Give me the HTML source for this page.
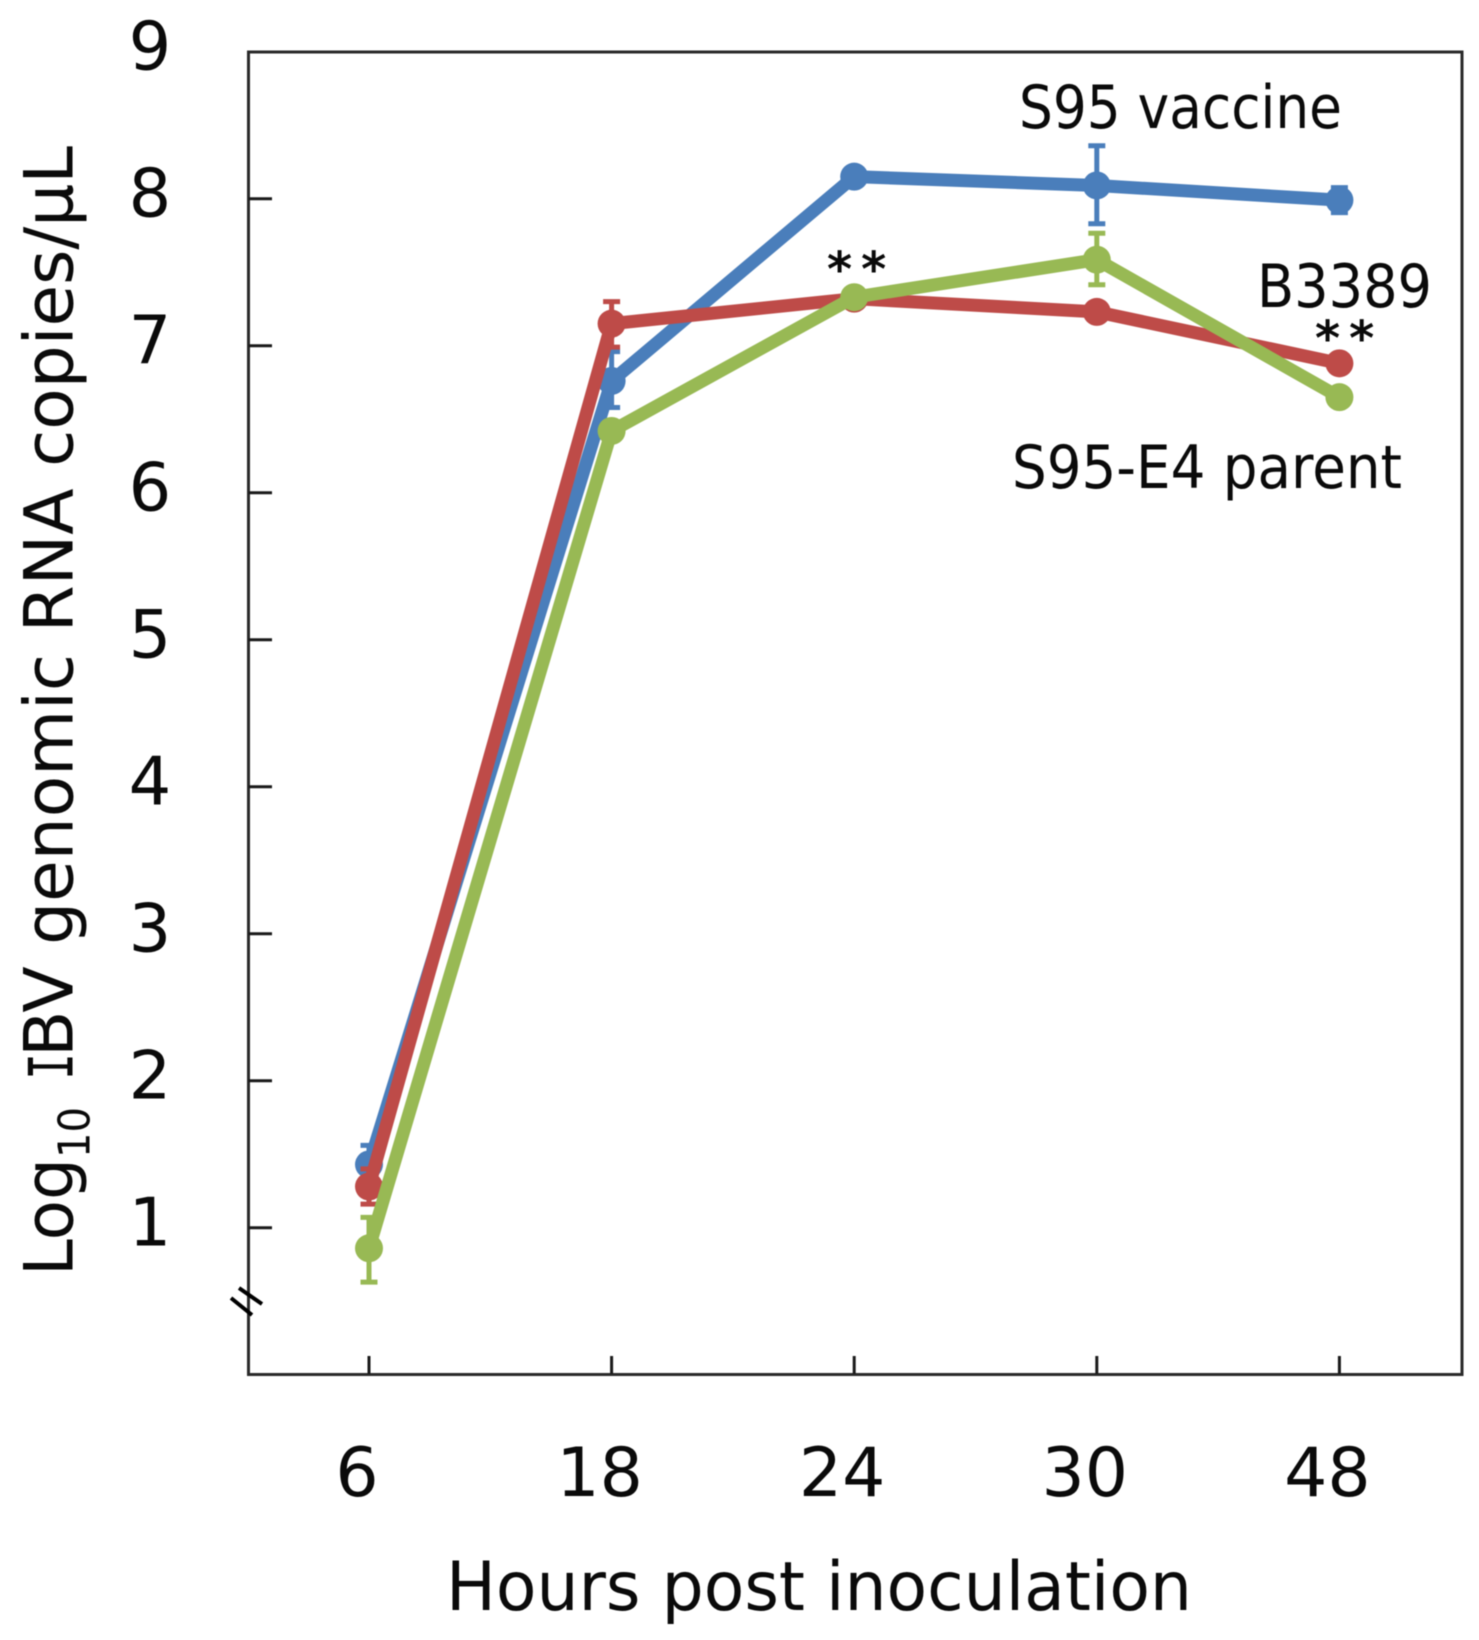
<!DOCTYPE html>
<html lang="en">
<head>
<meta charset="utf-8">
<title>IBV genomic RNA replication chart</title>
<style>
  html, body { margin: 0; padding: 0; background: #fff; }
  svg { display: block; filter: blur(0.6px); }
  text { font-family: "DejaVu Sans", "Liberation Sans", sans-serif; fill: #0a0a0a; }
</style>
</head>
<body>
<svg id="chart" xmlns="http://www.w3.org/2000/svg" width="1479" height="1640" viewBox="0 0 1479 1640">
  <rect x="0" y="0" width="1479" height="1640" fill="#ffffff"/>
  <rect x="248.5" y="52" width="1213.5" height="1322.5" fill="none" stroke="#2a2a2a" stroke-width="3"/>
  <g id="ticks"></g>
  <g id="labels"></g>
  <line x1="239" y1="1288" x2="262" y2="1304" stroke="#000" stroke-width="4"/>
  <line x1="231" y1="1298" x2="252" y2="1315" stroke="#000" stroke-width="4"/>
  <g id="series"></g>

  <text transform="translate(72.7 1276) rotate(-90)" font-size="68" textLength="118" lengthAdjust="spacingAndGlyphs">Log</text>
  <text transform="translate(89.3 1158) rotate(-90)" font-size="44" textLength="51" lengthAdjust="spacingAndGlyphs">10</text>
  <text transform="translate(72.7 1080) rotate(-90)" font-size="68" textLength="27" lengthAdjust="spacingAndGlyphs" style="font-family:'Liberation Mono',monospace">I</text>
  <text transform="translate(72.7 1057) rotate(-90)" font-size="68" textLength="911" lengthAdjust="spacingAndGlyphs">BV genomic RNA copies/µL</text>
  <text x="446" y="1610" font-size="68" textLength="746" lengthAdjust="spacingAndGlyphs">Hours post inoculation</text>

  <text x="1019" y="128" font-size="60" textLength="323" lengthAdjust="spacingAndGlyphs">S95 vaccine</text>
  <text x="1257" y="307" font-size="60" textLength="175" lengthAdjust="spacingAndGlyphs">B3389</text>
  <text x="1012" y="488" font-size="60" textLength="390" lengthAdjust="spacingAndGlyphs">S95-E4 parent</text>
  <text x="827" y="286" font-size="48" font-weight="bold" letter-spacing="9">**</text>
  <text x="1315" y="355" font-size="48" font-weight="bold" letter-spacing="9">**</text>
</svg>
<script>
const categories = ["6", "18", "24", "30", "48"];
const yTickLabels = [1, 2, 3, 4, 5, 6, 7, 8, 9];

const blueValues = [1.43, 6.76, 8.15, 8.09, 7.99];
const blueErrUp = [0.13, 0.20, 0.02, 0.27, 0.085];
const blueErrDown = [0.13, 0.18, 0.02, 0.26, 0.085];

const redValues = [1.28, 7.15, 7.32, 7.23, 6.88];
const redErrUp = [0.12, 0.15, 0.03, 0.03, 0.03];
const redErrDown = [0.12, 0.16, 0.03, 0.03, 0.03];

const greenValues = [0.86, 6.42, 7.33, 7.585, 6.65];
const greenErrUp = [0.21, 0.03, 0.03, 0.18, 0.03];
const greenErrDown = [0.23, 0.03, 0.03, 0.17, 0.03];

const SVGNS = "http://www.w3.org/2000/svg";
function xScale(i) { return 369 + i * 242.6; }
function yScale(v) { return 198.7 + (8 - v) * 147; }
function make(tag, parent) {
  const el = document.createElementNS(SVGNS, tag);
  parent.appendChild(el);
  return el;
}
function setLine(el, x1, y1, x2, y2, color, w) {
  el.setAttribute("x1", x1);
  el.setAttribute("y1", y1);
  el.setAttribute("x2", x2);
  el.setAttribute("y2", y2);
  el.setAttribute("stroke", color);
  el.setAttribute("stroke-width", w);
}

const ticks = document.getElementById("ticks");
const labels = document.getElementById("labels");

yTickLabels.forEach(function (v) {
  if (v < 9) {
    const t = make("line", ticks);
    
    
    setLine(t, 248.5, yScale(v), 272, yScale(v), "#1a1a1a", 3);
  }
  const l = make("text", labels);
  
  
  l.setAttribute("x", 150);
  l.setAttribute("y", yScale(v) + 18);
  l.setAttribute("font-size", 67);
  l.setAttribute("text-anchor", "middle");
  l.textContent = v;
});

categories.forEach(function (c, i) {
  const t = make("line", ticks);
  
  
  setLine(t, xScale(i), 1356, xScale(i), 1374, "#1a1a1a", 3);
  const l = make("text", labels);
  
  
  l.setAttribute("x", xScale(i) - 12);
  l.setAttribute("y", 1496);
  l.setAttribute("font-size", 68);
  l.setAttribute("text-anchor", "middle");
  l.textContent = c;
});

function drawSeries(name, color, values, errUp, errDown) {
  const group = make("g", document.getElementById("series"));
  
  

  values.forEach(function (v, i) {
    const x = xScale(i);
    const top = yScale(v + errUp[i]);
    const bottom = yScale(v - errDown[i]);
    const bar = make("line", group);
    
    
    setLine(bar, x, top, x, bottom, color, 5);
    const capTop = make("line", group);
    
    
    setLine(capTop, x - 8.5, top, x + 8.5, top, color, 5);
    const capBottom = make("line", group);
    
    
    setLine(capBottom, x - 8.5, bottom, x + 8.5, bottom, color, 5);
  });

  const line = make("polyline", group);
  
  
  line.setAttribute("points", values.map(function (v, i) { return xScale(i) + "," + yScale(v); }).join(" "));
  line.setAttribute("fill", "none");
  line.setAttribute("stroke", color);
  line.setAttribute("stroke-width", 13);
  line.setAttribute("stroke-linejoin", "round");

  values.forEach(function (v, i) {
    const dot = make("circle", group);
    
    
    dot.setAttribute("cx", xScale(i));
    dot.setAttribute("cy", yScale(v));
    dot.setAttribute("r", 14);
    dot.setAttribute("fill", color);
  });
}

drawSeries("s95-vaccine", "#4a7ebb", blueValues, blueErrUp, blueErrDown);
drawSeries("b3389", "#be4b48", redValues, redErrUp, redErrDown);
drawSeries("s95-e4-parent", "#98b954", greenValues, greenErrUp, greenErrDown);
</script>
</body>
</html>
